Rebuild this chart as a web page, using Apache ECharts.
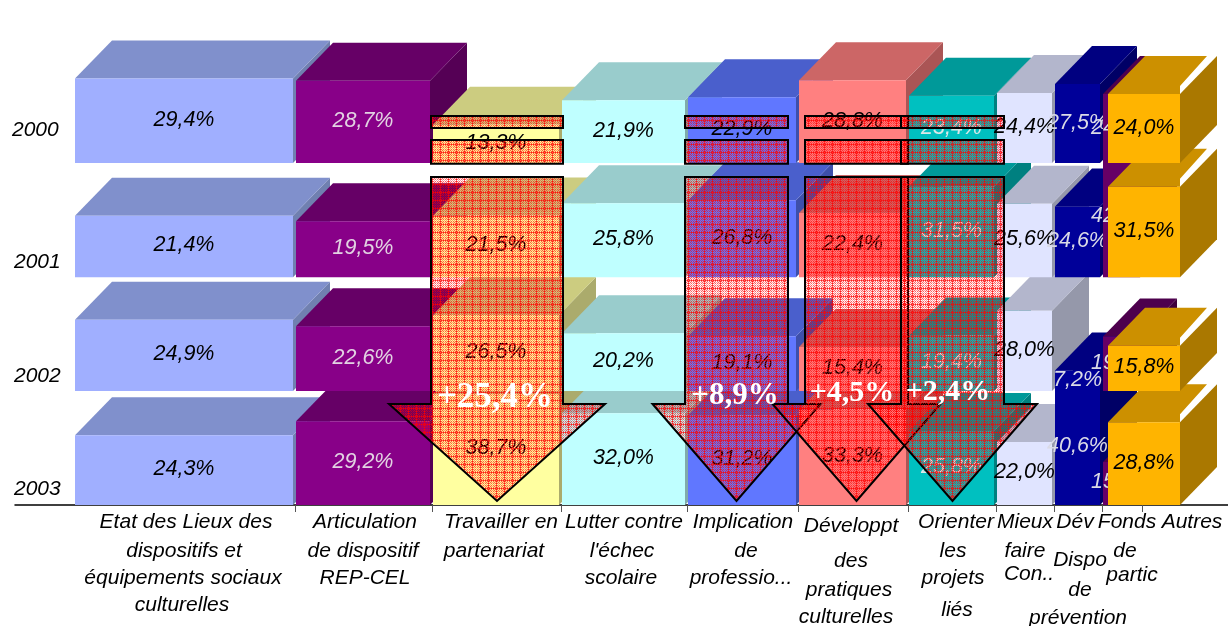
<!DOCTYPE html>
<html>
<head>
<meta charset="utf-8">
<style>html,body{margin:0;padding:0;background:#fff}#c{width:1228px;height:626px}</style>
<script src="https://cdn.jsdelivr.net/npm/echarts@6/dist/echarts.min.js"></script>
</head>
<body>
<div id="c"></div>
<script>
// ---------- data ----------
const years = ['2000', '2001', '2002', '2003'];
const categoryLines = [
  ['Etat des Lieux des', 'dispositifs et', 'équipements sociaux', 'culturelles'],
  ['Articulation', 'de dispositif', 'REP-CEL'],
  ['Travailler en', 'partenariat'],
  ['Lutter contre', "l'échec", 'scolaire'],
  ['Implication', 'de', 'professio...'],
  ['Développt', 'des', 'pratiques', 'culturelles'],
  ['Orienter', 'les', 'projets', 'liés'],
  ['Mieux', 'faire', 'Con..'],
  ['Dév', 'Dispo', 'de', 'prévention'],
  ['Fonds', 'de', 'partic'],
  ['Autres']
];
const values2000 = [29.4, 28.7, 13.3, 21.9, 22.9, 28.8, 23.4, 24.4, 27.5, 24.0, 24.0];
const values2001 = [21.4, 19.5, 21.5, 25.8, 26.8, 22.4, 31.5, 25.6, 24.6, 42.0, 31.5];
const values2002 = [24.9, 22.6, 26.5, 20.2, 19.1, 15.4, 19.4, 28.0, 7.2, 19.0, 15.8];
const values2003 = [24.3, 29.2, 38.7, 32.0, 31.2, 33.3, 25.8, 22.0, 40.6, 15.0, 28.8];
const columnWidths = [221, 137, 129, 126, 111, 110, 88, 58, 48, 40, 75];
const changeLabels = ['+25,4%', '+8,9%', '+4,5%', '+2,4%'];

// ---------- layout & style ----------
const allValues = [values2000, values2001, values2002, values2003];
const ROW_BASE = [119.2, 79.4, 39.7, 0];
const X_START = 60, GOLD_START = 1093;
const DX = 37, DY = 38;
const PALETTE = [
  ['#A0AFFF', '#8090CC', '#7080B0', '#000'],
  ['#880088', '#660066', '#550055', '#E2D2E2'],
  ['#FFFFA0', '#CCCC80', '#ABAB6C', '#000'],
  ['#BFFFFF', '#99CCCC', '#80ABAB', '#000'],
  ['#6077FF', '#4A5FCC', '#3E4FAA', '#000'],
  ['#FF8080', '#CC6666', '#AA5555', '#000'],
  ['#00C0C0', '#009999', '#008080', '#DCE8E8'],
  ['#E0E4FF', '#B3B6CC', '#9598AA', '#000'],
  ['#000099', '#000080', '#000066', '#DADAE6'],
  ['#660066', '#4D004D', '#3D003D', '#DADAE6'],
  ['#FFB400', '#CC9000', '#AA7800', '#000']
];
const LABEL_FONT = 'italic 21px "Liberation Sans", Arial, sans-serif';
const VALUE_FONT = 'italic 21.5px "Liberation Sans", Arial, sans-serif';
const LINE_POS = [
  [[186,522],[184,551],[183,578],[182,605]],
  [[365,522],[363,551],[365,578]],
  [[501,522],[494,551]],
  [[624,522],[622,551],[621,578]],
  [[743,522],[746,551],[741,578]],
  [[851,526],[851,561],[849,590],[846,617]],
  [[956,522],[953,551],[953,578],[957,610]],
  [[1025,522],[1025,551],[1029,574]],
  [[1075,522],[1080,560],[1080,590],[1078,618]],
  [[1127,522],[1125,551],[1132,575]],
  [[1192,522]]
];
const YEAR_POS = [[12,130],[14,262],[14,376],[14,489]];
const ARROWS = [ // centre, half shaft, half head (x units)
  [482, 66, 108], [721.5, 51.5, 84], [841.5, 51.5, 84], [937.5, 51.5, 84.5]
];
const ARROW_LEVELS = [135.6, 131.4, 127.2, 118.9, 114.3, 35.2, 1.4];
const ARROW_TEXT = [[495,398,35],[735,396,31],[852,393,30],[948,392,30]];

// ---------- hatch ----------
function hatchTile() {
  const n = 8, cv = document.createElement('canvas');
  cv.width = cv.height = n;
  const g = cv.getContext('2d');
  for (let i = 0; i < n; i++) for (let j = 0; j < n; j++) {
    let a = 0;
    if (i === 0 || j === 0) a = (i + j) % 2 ? 0.9 : 0.6;
    else if (i === 4 || j === 4) a = (i + j) % 2 ? 0.0 : 0.35;
    else a = (i + j) % 2 === 0 ? 0.62 : 0.12;
    g.fillStyle = 'rgba(255,0,0,' + a + ')';
    g.fillRect(i, j, 1, 1);
  }
  return cv;
}
const HATCH = { image: hatchTile(), repeat: 'repeat' };

// ---------- derived ----------
const starts = [];
columnWidths.reduce((s, w, i) => { starts[i] = i === 10 ? GOLD_START : s; return s + w; }, X_START);
const tickValues = starts.slice(1, 10).map(v => v - 1).concat([starts[9] + columnWidths[9] - 1]);

const blockData = [];
for (let r = years.length - 1; r >= 0; r--) {
  for (let c = 0; c < columnWidths.length; c++) {
    blockData.push([starts[c], starts[c] + columnWidths[c] - 3, ROW_BASE[r], allValues[r][c], c]);
  }
}

function poly(points, fill, z2) {
  return { type: 'polygon', shape: { points }, style: { fill }, z2 };
}

function renderBlock(params, api) {
  const x0v = api.value(0), x1v = api.value(1), base = api.value(2), v = api.value(3), c = api.value(4);
  const a = api.coord([x0v, base + v]), b = api.coord([x1v, base]);
  const x0 = a[0], top = a[1], x1 = b[0], bot = b[1];
  const pal = PALETTE[c];
  const z = params.dataIndex * 5 + 1;
  const topFace = c === 10
    ? [[x0, top], [x0 + DX, top - DY], [x1 + 27, top - DY], [x1, top - 8], [x1, top]]
    : [[x0, top], [x0 + DX, top - DY], [x1 + DX, top - DY], [x1, top]];
  return {
    type: 'group',
    children: [
      poly([[x1, top], [x1 + DX, top - DY], [x1 + DX, bot - DY], [x1, bot]], pal[2], z),
      poly(topFace, pal[1], z + 1),
      { type: 'rect', shape: { x: x0, y: top, width: x1 - x0, height: bot - top }, style: { fill: pal[0] }, z2: z + 2 },
      { type: 'text', z2: z + 3, style: {
        x: (x0 + x1) / 2, y: (top + bot) / 2 - 1,
        text: v.toFixed(1).replace('.', ',') + '%',
        font: VALUE_FONT, fill: pal[3], align: 'center', verticalAlign: 'middle' } }
    ]
  };
}

function renderArrow(params, api) {
  const [cx, hs, hh] = ARROWS[params.dataIndex];
  const L = ARROW_LEVELS;
  const P = (x, y) => api.coord([x, y]);
  const st = { fill: HATCH, stroke: '#000', lineWidth: 2 };
  const rect = (y0, y1) => ({ type: 'polygon', z2: 1000, shape: { points: [P(cx - hs, y0), P(cx + hs, y0), P(cx + hs, y1), P(cx - hs, y1)] }, style: st });
  return {
    type: 'group',
    children: [
      rect(L[0], L[1]), rect(L[2], L[3]),
      { type: 'polygon', z2: 1000, shape: { points: [
        P(cx - hs, L[4]), P(cx + hs, L[4]), P(cx + hs, L[5]), P(cx + hh, L[5]),
        P(cx, L[6]), P(cx - hh, L[5]), P(cx - hs, L[5])] }, style: st }
    ]
  };
}

// text items (axis categories, years, change labels) at page-level
const textItems = [];
categoryLines.forEach((lines, c) => lines.forEach((t, i) => {
  textItems.push({ text: t, x: LINE_POS[c][i][0], y: LINE_POS[c][i][1], font: LABEL_FONT, fill: '#000', align: 'center' });
}));
years.forEach((t, i) => textItems.push({ text: t, x: YEAR_POS[i][0], y: YEAR_POS[i][1], font: LABEL_FONT, fill: '#000', align: 'left' }));
changeLabels.forEach((t, i) => textItems.push({ text: t, x: ARROW_TEXT[i][0], y: ARROW_TEXT[i][1],
  font: 'bold ' + ARROW_TEXT[i][2] + 'px "Liberation Serif", serif', fill: '#fff', align: 'center' }));

const chart = echarts.init(document.getElementById('c'), null, { renderer: 'canvas', width: 1228, height: 626 });
chart.setOption({
  animation: false,
  backgroundColor: '#fff',
  grid: { left: 15, top: 0, width: 1213, height: 505, containLabel: false },
  xAxis: { type: 'value', min: 0, max: 1213, splitLine: { show: false }, axisLabel: { show: false },
    axisLine: { show: true, lineStyle: { color: '#000', width: 1.5 } },
    axisTick: { show: true, customValues: tickValues, length: 7, lineStyle: { color: '#555', width: 1 } } },
  yAxis: { type: 'value', min: 0, max: 176, show: false },
  series: [
    { type: 'custom', name: 'blocks', coordinateSystem: 'cartesian2d', clip: false, silent: true,
      dimensions: ['x0', 'x1', 'base', 'value', 'col'],
      encode: { x: [0, 1], y: [2, 3] }, data: blockData, renderItem: renderBlock, z: 2 },
    { type: 'custom', name: 'arrows', coordinateSystem: 'cartesian2d', clip: false, silent: true,
      data: ARROWS.map((a, i) => [a[0], i]), encode: { x: 0, y: 1 }, renderItem: renderArrow, z: 3 },
    { type: 'custom', name: 'texts', coordinateSystem: 'none', silent: true,
      data: textItems.map((t, i) => [i]), z: 4,
      renderItem: (params) => {
        const t = textItems[params.dataIndex];
        return { type: 'text', style: { x: t.x, y: t.y, text: t.text, font: t.font, fill: t.fill, align: t.align, verticalAlign: 'middle' } };
      } }
  ]
});
</script>
</body>
</html>
